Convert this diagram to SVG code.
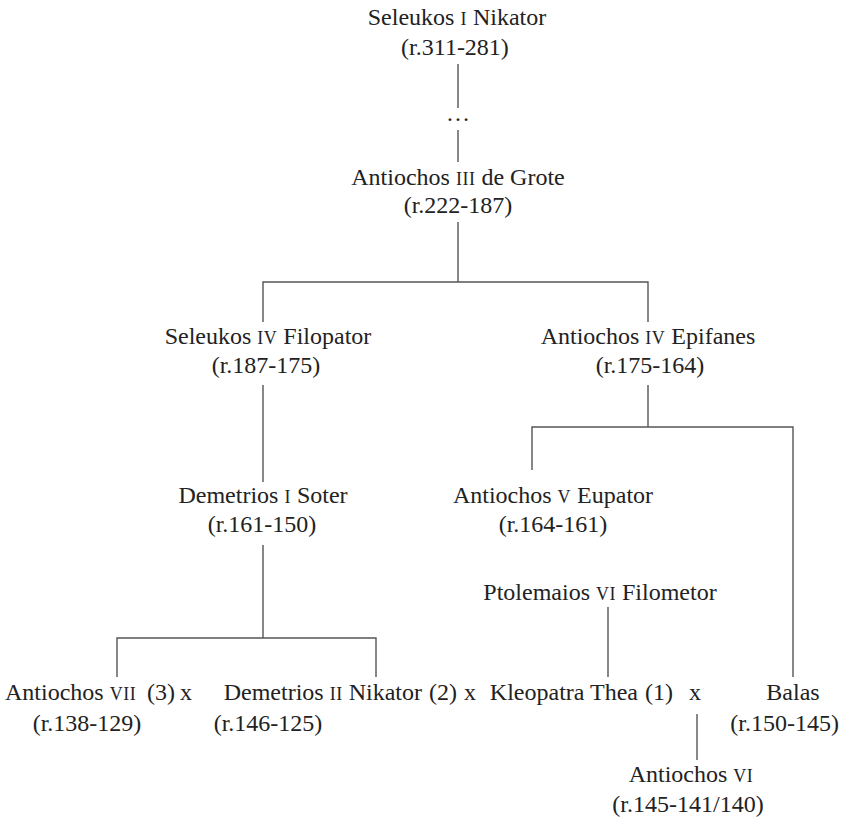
<svg xmlns="http://www.w3.org/2000/svg" width="843" height="831" viewBox="0 0 843 831">
  <style>
    text { font-family: "Liberation Serif", "DejaVu Serif", serif; font-size: 24px; fill: #222; }
    .c { text-anchor: middle; }
    .e { text-anchor: end; }
    .sc { font-size: 18px; letter-spacing: 0.5px; }
    .ln { stroke: #555; stroke-width: 1.4; fill: none; }
  </style>

  <!-- connectors -->
  <g id="connectors" class="ln">
    <path d="M458 64 V108 M458 130 V162"/>
    <path d="M458 222 V282 M263 322 V282 H648 V322"/>
    <path d="M263 385 V482"/>
    <path d="M648 385 V427 M532 470 V427 H793 V677"/>
    <path d="M263 545 V638 M117 677 V638 H376 V677"/>
    <path d="M608 607 V677"/>
    <path d="M697 714 V760"/>
  </g>

  <g id="seleukos1">
    <text class="c" x="457" y="25">Seleukos <tspan class="sc">I</tspan> Nikator</text>
    <text class="c" x="455" y="55">(r.311-281)</text>
  </g>
  <g id="gap">
    <text class="c" x="458" y="121">…</text>
  </g>
  <g id="antiochos3">
    <text class="c" x="458" y="185">Antiochos <tspan class="sc">III</tspan> de Grote</text>
    <text class="c" x="458" y="213">(r.222-187)</text>
  </g>
  <g id="seleukos4">
    <text class="c" x="268" y="344">Seleukos <tspan class="sc">IV</tspan> Filopator</text>
    <text class="c" x="266" y="373">(r.187-175)</text>
  </g>
  <g id="antiochos4">
    <text class="c" x="648" y="344">Antiochos <tspan class="sc">IV</tspan> Epifanes</text>
    <text class="c" x="650" y="373">(r.175-164)</text>
  </g>
  <g id="demetrios1">
    <text class="c" x="263" y="503">Demetrios <tspan class="sc">I</tspan> Soter</text>
    <text class="c" x="262" y="532">(r.161-150)</text>
  </g>
  <g id="antiochos5">
    <text class="c" x="553" y="503">Antiochos <tspan class="sc">V</tspan> Eupator</text>
    <text class="c" x="553" y="532">(r.164-161)</text>
  </g>
  <g id="ptolemaios6">
    <text class="c" x="600" y="600">Ptolemaios <tspan class="sc">VI</tspan> Filometor</text>
  </g>
  <g id="antiochos7">
    <text x="5" y="700">Antiochos <tspan class="sc">VII</tspan></text>
    <text x="147" y="700">(3)</text>
    <text x="180" y="700">x</text>
    <text class="c" x="87" y="731">(r.138-129)</text>
  </g>
  <g id="demetrios2">
    <text class="e" x="422" y="700">Demetrios <tspan class="sc">II</tspan> Nikator</text>
    <text x="429" y="700">(2)</text>
    <text x="464" y="700">x</text>
    <text class="c" x="268" y="731">(r.146-125)</text>
  </g>
  <g id="kleopatra">
    <text class="e" x="638" y="700">Kleopatra Thea</text>
    <text x="645" y="700">(1)</text>
    <text x="689" y="700">x</text>
  </g>
  <g id="balas">
    <text class="c" x="793" y="700">Balas</text>
    <text class="e" x="839" y="731">(r.150-145)</text>
  </g>
  <g id="antiochos6">
    <text class="c" x="691" y="782">Antiochos <tspan class="sc">VI</tspan></text>
    <text class="c" x="688" y="812">(r.145-141/140)</text>
  </g>
</svg>
